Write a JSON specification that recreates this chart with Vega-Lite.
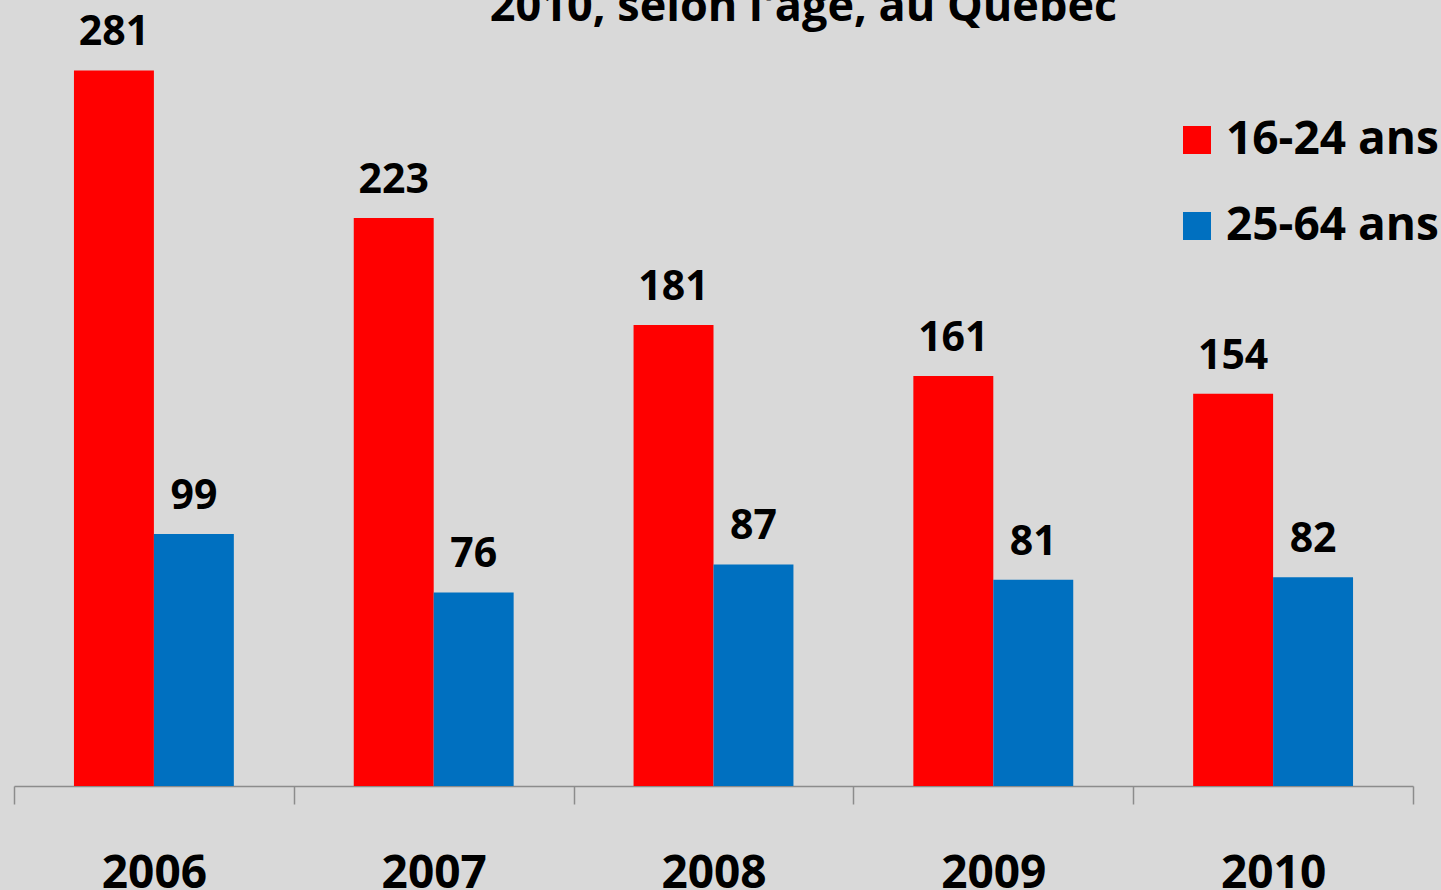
{
  "$schema": "https://vega.github.io/schema/vega-lite/v6.json",
  "autosize": {"type": "none"},
  "padding": {"left": 14, "top": 22, "right": 28, "bottom": 104},
  "width": 1399,
  "height": 764,
  "background": "#d9d9d9",
  "title": {
    "text": "2010, selon l'âge, au Québec",
    "font": "Open Sans",
    "fontWeight": "bold",
    "fontSize": 45,
    "color": "#000000",
    "anchor": "middle",
    "baseline": "alphabetic",
    "offset": 0,
    "dx": 90,
    "dy": 54
  },
  "data": {
    "values": [
      {"year": "2006", "group": "16-24 ans", "value": 281},
      {"year": "2006", "group": "25-64 ans", "value": 99},
      {"year": "2007", "group": "16-24 ans", "value": 223},
      {"year": "2007", "group": "25-64 ans", "value": 76},
      {"year": "2008", "group": "16-24 ans", "value": 181},
      {"year": "2008", "group": "25-64 ans", "value": 87},
      {"year": "2009", "group": "16-24 ans", "value": 161},
      {"year": "2009", "group": "25-64 ans", "value": 81},
      {"year": "2010", "group": "16-24 ans", "value": 154},
      {"year": "2010", "group": "25-64 ans", "value": 82}
    ]
  },
  "encoding": {
    "x": {
      "field": "year",
      "type": "nominal",
      "scale": {"paddingInner": 0, "paddingOuter": 0},
      "axis": {
        "title": null,
        "labelAngle": 0,
        "labelFont": "Open Sans",
        "labelFontWeight": "bold",
        "labelFontSize": 46,
        "labelColor": "#000000",
        "labelBaseline": "alphabetic",
        "labelPadding": 83,
        "tickBand": "extent",
        "tickSize": 18,
        "tickColor": "#8c8c8c",
        "domainColor": "#8c8c8c",
        "tickWidth": 1.5,
        "domainWidth": 1.5,
        "grid": false
      }
    },
    "xOffset": {
      "field": "group",
      "type": "nominal",
      "sort": ["16-24 ans", "25-64 ans"],
      "scale": {"paddingInner": 0, "paddingOuter": 0.75}
    },
    "y": {
      "field": "value",
      "type": "quantitative",
      "scale": {"domain": [0, 300], "nice": false},
      "axis": null
    }
  },
  "layer": [
    {
      "mark": {"type": "bar"},
      "encoding": {
        "color": {
          "field": "group",
          "type": "nominal",
          "scale": {"domain": ["16-24 ans", "25-64 ans"], "range": ["#ff0000", "#0070c0"]},
          "legend": {
            "title": null,
            "orient": "none",
            "legendX": 1160,
            "legendY": 95,
            "padding": 0,
            "symbolType": "square",
            "symbolSize": 784,
            "symbolStrokeWidth": 0,
            "symbolOpacity": 1,
            "labelFont": "Open Sans",
            "labelFontWeight": "bold",
            "labelFontSize": 46,
            "labelColor": "#000000",
            "labelOffset": 6,
            "labelLimit": 400,
            "rowPadding": 40
          }
        }
      }
    },
    {
      "mark": {
        "type": "text",
        "font": "Open Sans",
        "fontWeight": "bold",
        "fontSize": 41,
        "color": "#000000",
        "baseline": "alphabetic",
        "dy": -25
      },
      "encoding": {
        "text": {"field": "value", "type": "quantitative"}
      }
    }
  ],
  "config": {
    "view": {"stroke": null}
  }
}
